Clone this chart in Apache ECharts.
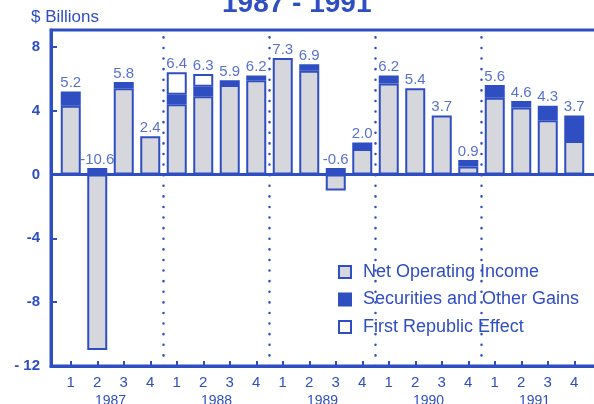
<!DOCTYPE html>
<html>
<head>
<meta charset="utf-8">
<script src="https://cdn.jsdelivr.net/npm/echarts@6/dist/echarts.min.js"></script>
<style>
  html, body { margin: 0; padding: 0; background: #ffffff; }
  #chart { width: 594px; height: 404px; }
</style>
</head>
<body>
<div id="chart"></div>
<script>
// Quarterly earnings, $ billions
const quarters = ['1', '2', '3', '4', '1', '2', '3', '4', '1', '2', '3', '4', '1', '2', '3', '4', '1', '2', '3', '4'];
const years = ['1987', '1988', '1989', '1990', '1991'];
const netOperatingIncome = [4.3, -11.0, 5.4, 2.4, 4.4, 4.9, 5.6, 5.9, 7.3, 6.5, -1.0, 1.6, 5.7, 5.4, 3.7, 0.5, 4.8, 4.2, 3.4, 2.1];
const securitiesGains = [0.9, 0.4, 0.4, 0, 0.6, 0.6, 0.3, 0.3, 0, 0.4, 0.4, 0.4, 0.5, 0, 0, 0.4, 0.8, 0.4, 0.9, 1.6];
const firstRepublicEffect = [0, 0, 0, 0, 1.4, 0.8, 0, 0, 0, 0, 0, 0, 0, 0, 0, 0, 0, 0, 0, 0];
const totals = [5.2, -10.6, 5.8, 2.4, 6.4, 6.3, 5.9, 6.2, 7.3, 6.9, -0.6, 2.0, 6.2, 5.4, 3.7, 0.9, 5.6, 4.6, 4.3, 3.7];
const yTicks = [-12, -8, -4, 0, 4, 8];
const yTickLabels = ['- 12', '-8', '-4', '0', '4', '8'];
const yearBoundaries = [4, 8, 12, 16];
const yearCenters = [2, 6, 10, 14, 18];

// Layout
const W = 594, H = 404;
const BLUE = '#2f4ec2';
const GRAY = '#d6d7dd';
const FONT = '"Liberation Sans", Arial, sans-serif';
const CAT_W = 26.5;
const FRAME_LEFT = 51;
const BAR_LEFT = 57.5;
const FRAME_RIGHT = -3;
const PLOT_TOP = 30;
const PLOT_BOTTOM = 38;
const Y_MIN = -12, Y_MAX = 9.05;

const barGridWidth = CAT_W * quarters.length;
const frameWidth = W - FRAME_LEFT - FRAME_RIGHT;
const xMin = -(BAR_LEFT - FRAME_LEFT) / CAT_W;
const xMax = xMin + frameWidth / CAT_W;

const nz = v => (v === 0 ? null : v);
const labelAnchor = netOperatingIncome.map((v, i) =>
  Math.max(v, 0) + Math.max(securitiesGains[i], 0) + Math.max(firstRepublicEffect[i], 0));

const barBase = {
  type: 'bar',
  xAxisIndex: 0,
  yAxisIndex: 0,
  stack: 'q',
  barWidth: 20,
  silent: true
};

const chart = echarts.init(document.getElementById('chart'), null, { renderer: 'canvas' });
chart.setOption({
  animation: false,
  textStyle: { fontFamily: FONT, color: BLUE },
  title: [
    {
      text: '1987 - 1991',
      left: 222,
      top: -10,
      padding: 0,
      textStyle: { fontFamily: FONT, fontSize: 28, fontWeight: 'bold', color: BLUE }
    },
    {
      text: '$ Billions',
      left: 31,
      top: 9,
      padding: 0,
      textStyle: { fontFamily: FONT, fontSize: 17, fontWeight: 'normal', color: BLUE }
    }
  ],
  legend: {
    data: ['Net Operating Income', 'Securities and Other Gains', 'First Republic Effect'],
    orient: 'vertical',
    left: 333,
    top: 258,
    itemWidth: 12,
    itemHeight: 12,
    itemGap: 9.5,
    icon: 'rect',
    selectedMode: false,
    textStyle: { fontFamily: FONT, fontSize: 18, color: BLUE, padding: [0, 0, 0, 7] }
  },
  grid: [
    {
      left: BAR_LEFT, width: barGridWidth, top: PLOT_TOP, bottom: PLOT_BOTTOM,
      containLabel: false, outerBoundsMode: 'none'
    },
    {
      left: FRAME_LEFT, right: FRAME_RIGHT, top: PLOT_TOP, bottom: PLOT_BOTTOM,
      containLabel: false, outerBoundsMode: 'none',
      show: true, borderColor: BLUE, borderWidth: 3, backgroundColor: 'transparent'
    }
  ],
  xAxis: [
    {
      type: 'category',
      gridIndex: 0,
      data: quarters,
      position: 'bottom',
      axisLine: { show: false, onZero: false },
      axisTick: { show: true, inside: true, alignWithLabel: true, length: 5, lineStyle: { color: BLUE, width: 2 } },
      axisLabel: { margin: 9, fontSize: 15, color: BLUE, fontFamily: FONT },
      splitLine: { show: false }
    },
    {
      type: 'value',
      gridIndex: 1,
      min: xMin,
      max: xMax,
      position: 'bottom',
      axisLine: { show: true, onZero: false, lineStyle: { color: BLUE, width: 3 } },
      axisTick: { show: false },
      splitLine: { show: false },
      axisLabel: {
        customValues: yearCenters,
        margin: 28,
        fontSize: 14,
        color: BLUE,
        fontFamily: FONT,
        formatter: v => years[yearCenters.indexOf(v)] || ''
      }
    }
  ],
  yAxis: [
    { type: 'value', gridIndex: 0, min: Y_MIN, max: Y_MAX, show: false },
    {
      type: 'value',
      gridIndex: 1,
      min: Y_MIN,
      max: Y_MAX,
      axisLine: { show: true, onZero: false, lineStyle: { color: BLUE, width: 3 } },
      axisTick: { show: true, inside: true, length: 6, customValues: yTicks, lineStyle: { color: BLUE, width: 2 } },
      axisLabel: {
        customValues: yTicks,
        margin: 11,
        fontSize: 15,
        fontWeight: 'bold',
        color: BLUE,
        fontFamily: FONT,
        formatter: v => yTickLabels[yTicks.indexOf(v)] || ''
      },
      splitLine: { show: false }
    }
  ],
  series: [
    {
      // zero line and dotted year separators
      type: 'line',
      xAxisIndex: 1,
      yAxisIndex: 1,
      data: [],
      silent: true,
      markLine: {
        silent: true,
        symbol: 'none',
        animation: false,
        label: { show: false },
        data: [
          { yAxis: 0, lineStyle: { color: BLUE, width: 3, type: 'solid' } }
        ].concat(yearBoundaries.map(b => ({
          xAxis: b,
          lineStyle: { color: BLUE, width: 2.5, type: [0.1, 10.5], cap: 'round' }
        })))
      }
    },
    Object.assign({}, barBase, {
      name: 'Net Operating Income',
      data: netOperatingIncome.map(nz),
      itemStyle: { color: GRAY, borderColor: BLUE, borderWidth: 2 }
    }),
    Object.assign({}, barBase, {
      name: 'Securities and Other Gains',
      data: securitiesGains.map(nz),
      itemStyle: { color: BLUE, borderColor: BLUE, borderWidth: 2 }
    }),
    Object.assign({}, barBase, {
      name: 'First Republic Effect',
      data: firstRepublicEffect.map(nz),
      itemStyle: { color: '#ffffff', borderColor: BLUE, borderWidth: 2 }
    }),
    {
      // value labels above each bar
      type: 'scatter',
      xAxisIndex: 0,
      yAxisIndex: 0,
      data: labelAnchor,
      symbolSize: 0,
      silent: true,
      label: {
        show: true,
        position: 'top',
        distance: 1,
        fontSize: 15,
        color: BLUE,
        fontFamily: FONT,
        formatter: p => totals[p.dataIndex].toFixed(1)
      }
    }
  ]
});
</script>
</body>
</html>
